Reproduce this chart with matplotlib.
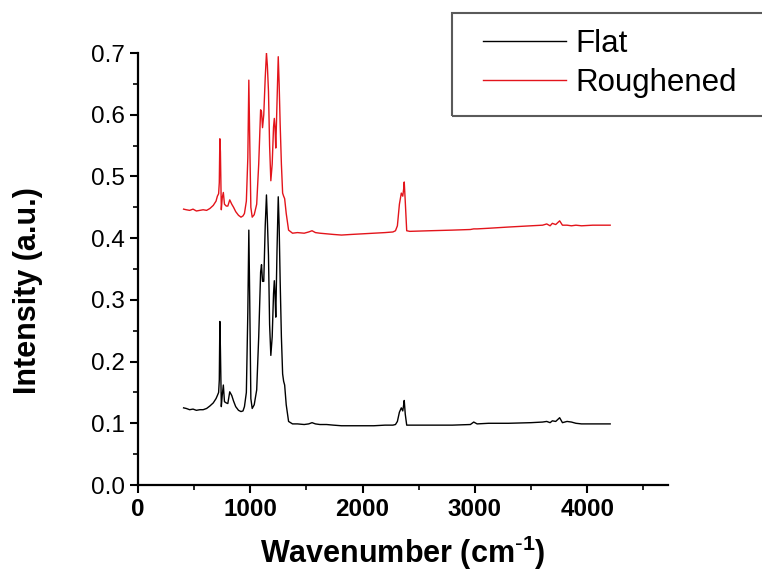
import numpy as np
import matplotlib
matplotlib.use("Agg")
import matplotlib.pyplot as plt
from matplotlib.patches import Rectangle
from matplotlib.ticker import MultipleLocator

# Spectra (wavenumber in cm-1, intensity in a.u.)
wavenumber = [
	406, 430, 460, 490, 520, 550, 580, 611, 640, 670,
	695, 707, 718, 724, 729, 734, 742, 750, 760, 770,
	786, 800, 817, 835, 851, 870, 895, 917, 935, 948,
	965, 978, 987, 995, 1005, 1017, 1035, 1057, 1075, 1092,
	1100, 1109, 1120, 1133, 1144, 1152, 1162, 1172, 1183, 1195,
	1207, 1214, 1220, 1227, 1238, 1249, 1257, 1266, 1277, 1288,
	1297, 1306, 1320, 1341, 1376, 1420, 1480, 1520, 1550, 1580,
	1620, 1680, 1740, 1812, 1900, 2000, 2100, 2200, 2270, 2293,
	2310, 2328, 2345, 2358, 2366, 2371, 2380, 2393, 2420, 2600,
	2800, 2960, 2990, 3020, 3122, 3300, 3500, 3603, 3640, 3670,
	3690, 3720, 3755, 3780, 3821, 3860, 3900, 3950, 4050, 4205,
]

flat = [
	0.125, 0.124, 0.122, 0.123, 0.121, 0.122, 0.122, 0.124, 0.128, 0.133,
	0.140, 0.145, 0.150, 0.170, 0.265, 0.220, 0.127, 0.145, 0.162, 0.135,
	0.133, 0.132, 0.151, 0.145, 0.136, 0.127, 0.121, 0.119, 0.120, 0.127,
	0.150, 0.280, 0.413, 0.300, 0.140, 0.124, 0.130, 0.154, 0.240, 0.345,
	0.357, 0.330, 0.330, 0.420, 0.470, 0.430, 0.372, 0.260, 0.210, 0.240,
	0.310, 0.331, 0.310, 0.272, 0.380, 0.467, 0.420, 0.331, 0.240, 0.180,
	0.168, 0.162, 0.130, 0.103, 0.099, 0.099, 0.098, 0.099, 0.101, 0.099,
	0.098, 0.098, 0.097, 0.096, 0.096, 0.096, 0.096, 0.097, 0.097, 0.098,
	0.103, 0.118, 0.125, 0.120, 0.130, 0.137, 0.115, 0.097, 0.097, 0.097,
	0.097, 0.098, 0.102, 0.099, 0.100, 0.100, 0.101, 0.102, 0.103, 0.101,
	0.104, 0.103, 0.109, 0.101, 0.103, 0.102, 0.100, 0.099, 0.099, 0.099,
]

roughened = [
	0.447, 0.446, 0.445, 0.447, 0.444, 0.445, 0.446, 0.445, 0.448, 0.453,
	0.460, 0.468, 0.472, 0.490, 0.561, 0.540, 0.446, 0.465, 0.474, 0.455,
	0.452, 0.452, 0.462, 0.455, 0.450, 0.443, 0.437, 0.434, 0.436, 0.440,
	0.460, 0.530, 0.656, 0.560, 0.450, 0.434, 0.438, 0.455, 0.520, 0.608,
	0.605, 0.579, 0.600, 0.660, 0.700, 0.680, 0.638, 0.550, 0.493, 0.520,
	0.580, 0.594, 0.580, 0.546, 0.620, 0.694, 0.650, 0.585, 0.520, 0.473,
	0.468, 0.464, 0.440, 0.413, 0.408, 0.409, 0.408, 0.410, 0.412, 0.409,
	0.408, 0.407, 0.406, 0.405, 0.406, 0.407, 0.408, 0.409, 0.410, 0.412,
	0.420, 0.455, 0.473, 0.468, 0.480, 0.491, 0.460, 0.412, 0.411, 0.412,
	0.413, 0.414, 0.415, 0.415, 0.416, 0.418, 0.420, 0.421, 0.423, 0.420,
	0.424, 0.422, 0.428, 0.421, 0.421, 0.420, 0.421, 0.420, 0.421, 0.421,
]

series_labels = ["Flat", "Roughened"]
series_colors = ["#000000", "#e3141b"]

plt.rcParams["font.family"] = ["Liberation Sans", "DejaVu Sans"]
plt.rcParams["mathtext.default"] = "regular"

W, H = 762, 572
fig = plt.figure(figsize=(W/100, H/100), dpi=100)
ax = fig.add_axes([138/W, 1-485/H, 530/W, 432/H])

for values, label, color in zip([flat, roughened], series_labels, series_colors):
	ax.plot(wavenumber, values, color=color, lw=1.0, label=label)

ax.set_xlim(0, 4720)
ax.set_ylim(0, 0.7)

# Origin-style axes: left and bottom only, outward ticks
for side in ["top", "right"]:
	ax.spines[side].set_visible(False)
for side in ["left", "bottom"]:
	ax.spines[side].set_linewidth(1.6)

ax.xaxis.set_major_locator(MultipleLocator(1000))
ax.xaxis.set_minor_locator(MultipleLocator(500))
ax.yaxis.set_major_locator(MultipleLocator(0.1))
ax.yaxis.set_minor_locator(MultipleLocator(0.05))
ax.yaxis.set_major_formatter(plt.FormatStrFormatter("%.1f"))
ax.tick_params(which="major", direction="out", length=6, width=1.5, labelsize=17.5)
ax.tick_params(which="minor", direction="out", length=3.5, width=1.2)
for lbl in ax.get_xticklabels():
	lbl.set_fontweight("bold")

ax.set_xlabel(r"Wavenumber (cm$^{\text{-}1}$)", fontsize=22, fontweight="bold")
ax.set_ylabel("Intensity (a.u.)", fontsize=22, fontweight="bold")
ax.xaxis.set_label_coords(0.5, -0.112)
ax.yaxis.set_label_coords(-0.179, 0.451)

# Legend box runs off the right edge of the figure
fig.patches.append(Rectangle(
	(452/W, 1-116/H), 330/W, 103/H,
	transform=fig.transFigure, fill=False,
	edgecolor="#5a5a5a", lw=1.5,
))
leg = ax.legend(
	loc="upper left",
	bbox_to_anchor=(483/W, 1-29/H),
	bbox_transform=fig.transFigure,
	frameon=False,
	fontsize=22.5,
	borderpad=0,
	borderaxespad=0,
	handlelength=2.65,
	handletextpad=0.3,
	labelspacing=0.28,
)

plt.savefig("out.png", dpi=100)
